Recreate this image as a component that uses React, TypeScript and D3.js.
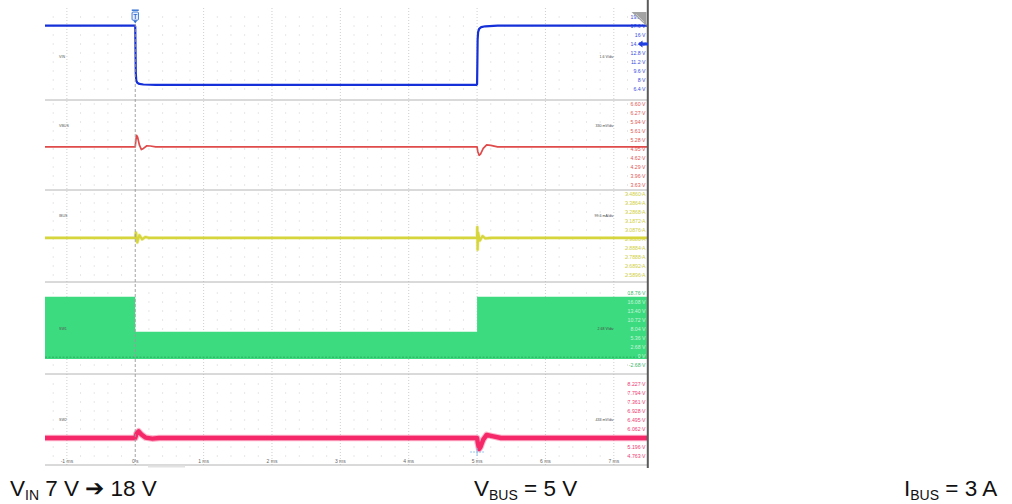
import React from 'react';
import * as d3 from 'd3';

// ---------- data ----------
const timeTicks = [-1, 0, 1, 2, 3, 4, 5, 6, 7];
const timeTickLabels = ['-1 ms', '0 s', '1 ms', '2 ms', '3 ms', '4 ms', '5 ms', '6 ms', '7 ms'];

const vinTicks = [19.2, 17.6, 16, 14.4, 12.8, 11.2, 9.6, 8, 6.4];
const vinTickLabels = ['19.2 V', '17.6 V', '16 V', '14.4 V', '12.8 V', '11.2 V', '9.6 V', '8 V', '6.4 V'];
const vinTrace: [number, number][] = [
  [-1.32, 17.65], [-0.004, 17.65], [0, 17.5], [0.004, 13], [0.008, 9.2], [0.015, 7.9], [0.03, 7.5],
  [0.06, 7.3], [0.12, 7.2], [0.3, 7.15], [4.996, 7.15], [5.0, 7.3], [5.004, 11], [5.008, 15.2],
  [5.015, 16.5], [5.03, 17.1], [5.06, 17.4], [5.12, 17.55], [5.3, 17.65], [7.5, 17.65],
];

const vbusTicks = [6.6, 6.27, 5.94, 5.61, 5.28, 4.95, 4.62, 4.29, 3.96, 3.63];
const vbusTickLabels = ['6.60 V', '6.27 V', '5.94 V', '5.61 V', '5.28 V', '4.95 V', '4.62 V', '4.29 V', '3.96 V', '3.63 V'];
const vbusTrace: [number, number][] = [
  [-1.32, 5.03], [0, 5.03], [0.008, 5.25], [0.02, 5.45], [0.035, 5.38], [0.06, 5.1], [0.09, 4.93],
  [0.12, 4.97], [0.17, 5.07], [0.22, 5.06], [0.3, 5.03], [5.0, 5.03], [5.01, 4.86], [5.03, 4.72],
  [5.05, 4.76], [5.09, 4.97], [5.14, 5.1], [5.2, 5.08], [5.3, 5.03], [7.5, 5.03],
];

const ibusTicks = [3.486, 3.3864, 3.2868, 3.1872, 3.0876, 2.988, 2.8884, 2.7888, 2.6892, 2.5896];
const ibusTickLabels = ['3.4860 A', '3.3864 A', '3.2868 A', '3.1872 A', '3.0876 A', '2.9880 A', '2.8884 A', '2.7888 A', '2.6892 A', '2.5896 A'];
const ibusTrace: [number, number][] = [
  [-1.32, 3.0], [0, 3.0], [0.01, 3.06], [0.03, 2.95], [0.06, 3.03], [0.1, 2.985], [0.15, 3.01],
  [0.2, 3.0], [5.0, 3.0], [5.003, 3.12], [5.008, 2.87], [5.015, 3.06], [5.04, 2.97], [5.08, 3.02],
  [5.12, 2.995], [5.2, 3.0], [7.5, 3.0],
];

const sw1Ticks = [18.76, 16.08, 13.4, 10.72, 8.04, 5.36, 2.68, 0, -2.68];
const sw1TickLabels = ['18.76 V', '16.08 V', '13.40 V', '10.72 V', '8.04 V', '5.36 V', '2.68 V', '0 V', '-2.68 V'];
const sw1Envelope: [number, number][] = [
  [-1.32, 17.66], [0, 7.24], [5.0, 17.66], [7.5, 17.66],
];
const sw1Low = -0.9;

const sw2Ticks = [8.227, 7.794, 7.361, 6.928, 6.495, 6.062, 5.629, 5.196, 4.763];
const sw2TickLabels = ['8.227 V', '7.794 V', '7.361 V', '6.928 V', '6.495 V', '6.062 V', '5.629 V', '5.196 V', '4.763 V'];
const sw2Trace: [number, number][] = [
  [-1.32, 5.63], [0, 5.63], [0.02, 5.85], [0.05, 5.95], [0.09, 5.8], [0.15, 5.65], [0.25, 5.6],
  [0.35, 5.63], [5.0, 5.63], [5.01, 5.4], [5.03, 5.1], [5.05, 5.2], [5.09, 5.55], [5.14, 5.78],
  [5.22, 5.72], [5.35, 5.63], [7.5, 5.63],
];

const channelNames = ['VIN', 'VBUS', 'IBUS', 'SW1', 'SW2'];
const perDivLabels = ['1.6 V/div', '330 mV/div', '99.6 mA/div', '2.68 V/div', '433 mV/div'];

// ---------- layout ----------
const X0 = 45;
const X1 = 648;
const DIV = 9;
const separators = [100, 190, 282, 374, 465];
const firstTickY = [17, 104, 194, 293, 384];
const nameY = [57, 126, 216, 329, 420];
const perDivY = [57, 126, 216, 329, 420];

const x = d3.scaleLinear().domain([-1.32, 7.5]).range([X0, X1]);

function panelScale(ticks: number[], y0: number) {
  return d3.scaleLinear().domain([ticks[0], ticks[ticks.length - 1]]).range([y0, y0 + (ticks.length - 1) * DIV]);
}

const panels = [
  { ticks: vinTicks, labels: vinTickLabels, color: '#1530d8', labelColor: '#3a4be0', width: 2.2, halo: 0 },
  { ticks: vbusTicks, labels: vbusTickLabels, color: '#df4a4a', labelColor: '#e25555', width: 1.7, halo: 0 },
  { ticks: ibusTicks, labels: ibusTickLabels, color: '#d6d63c', labelColor: '#cfcf3a', width: 2.2, halo: 3.6 },
  { ticks: sw1Ticks, labels: sw1TickLabels, color: '#3ddb7f', labelColor: '#3cb86c', width: 1, halo: 0 },
  { ticks: sw2Ticks, labels: sw2TickLabels, color: '#f5286a', labelColor: '#ef3a74', width: 4.4, halo: 6.6 },
];
const traces = [vinTrace, vbusTrace, ibusTrace, null, sw2Trace];

export default function App() {
  const scales = panels.map((p, i) => panelScale(p.ticks, firstTickY[i]));
  const line = (s: d3.ScaleLinear<number, number>) =>
    d3.line<[number, number]>().x(d => x(d[0])).y(d => s(d[1]));

  const minorTimes: number[] = [];
  for (let k = -6; k <= 37; k++) {
    const t = k * 0.2;
    if (Math.abs(t - Math.round(t)) > 0.01 && x(t) > X0 && x(t) < X1) minorTimes.push(t);
  }

  const swScale = scales[3];
  const swArea = d3.area<[number, number]>()
    .x(d => x(d[0]))
    .y0(() => swScale(sw1Low))
    .y1(d => swScale(d[1]))
    .curve(d3.curveStepAfter);

  return (
    <svg width={1012} height={504} style={{ position: 'absolute', left: 0, top: 0, background: '#fff' }}
      fontFamily="'Liberation Sans', Arial, sans-serif">
      <rect x={0} y={0} width={1012} height={504} fill="#fff" />
      {/* minor grid dots */}
      {panels.map((p, i) => (
        <g key={'dots' + i}>
          {p.ticks.map((tv, j) => minorTimes.map((t, k) => (
            <rect key={j + '-' + k} x={x(t) - 0.5} y={scales[i](tv) - 0.5} width={1} height={1} fill="#cfcfcf" />
          )))}
        </g>
      ))}
      {/* vertical ms grid lines */}
      {timeTicks.filter(t => t !== 0).map(t => (
        <line key={'v' + t} x1={x(t)} x2={x(t)} y1={8} y2={465} stroke="#cfcfcf" strokeWidth={1} strokeDasharray="1,2" />
      ))}
      {/* separators */}
      {separators.map(y => (
        <line key={'s' + y} x1={X0} x2={X1} y1={y} y2={y} stroke="#b4b4b4" strokeWidth={1} />
      ))}
      <rect x={148} y={465.5} width={37} height={2} fill="#e2e2e2" />
      {/* right axis labels */}
      {panels.map((p, i) => (
        <g key={'lab' + i} fontSize={5.2} textAnchor="end">
          {p.ticks.map((tv, j) => (
            <text key={j} x={645.5} y={scales[i](tv) + 1.9} fill={p.labelColor}>{p.labels[j]}</text>
          ))}
        </g>
      ))}
      {/* SW1 fill */}
      <path d={swArea(sw1Envelope) || ''} fill="#3ddb7f" />
      <line x1={X0} x2={X1} y1={swScale(-0.35)} y2={swScale(-0.35)} stroke="#25a458" strokeWidth={0.8} strokeDasharray="2,1.5" />
      {/* SW1 labels inside the fill on top */}
      <g fontSize={5.2} textAnchor="end">
        {sw1Ticks.map((tv, j) => (tv <= 16.08 && tv >= 0) ? (
          <text key={j} x={645.5} y={swScale(tv) + 1.9} fill="#e9fbef" fillOpacity={0.8}>{sw1TickLabels[j]}</text>
        ) : null)}
      </g>
      {/* traces */}
      {traces.map((tr, i) => tr ? (
        <g key={'tr' + i}>
          {panels[i].halo > 0 ? (
            <path d={line(scales[i])(tr) || ''} fill="none" stroke={panels[i].color}
              strokeWidth={panels[i].halo} strokeLinejoin="round" strokeOpacity={0.35} />
          ) : null}
          <path d={line(scales[i])(tr) || ''} fill="none" stroke={panels[i].color}
            strokeWidth={panels[i].width} strokeLinejoin="round" />
        </g>
      ) : null)}
      {/* trigger dashed line */}
      <line x1={x(0)} x2={x(0)} y1={24} y2={465} stroke="#9a9a9a" strokeWidth={0.9} strokeDasharray="3,2" />
      {/* channel names and per-div texts */}
      {channelNames.map((n, i) => (
        <text key={'n' + i} x={59} y={nameY[i] + 1.3} fontSize={3.6} fill="#555">{n}</text>
      ))}
      {perDivLabels.map((n, i) => (
        <text key={'pd' + i} x={613.5} y={perDivY[i] + 1.3} fontSize={3.6} fill="#444" textAnchor="end">{n}</text>
      ))}
      {/* time tick labels */}
      {timeTicks.map((t, i) => (
        <text key={'tt' + i} x={x(t)} y={462.5} fontSize={5} fill="#666" textAnchor="middle">{timeTickLabels[i]}</text>
      ))}
      {/* cursor marker at 5 ms */}
      <g stroke="#8cbde8" strokeWidth={0.9}>
        <line x1={x(5) - 7} x2={x(5) + 7} y1={452} y2={452} strokeDasharray="2,1" />
        <line x1={x(5)} x2={x(5)} y1={448} y2={456} />
      </g>
      {/* right border */}
      <line x1={647.8} x2={647.8} y1={0} y2={468} stroke="#5a5a5a" strokeWidth={2} />
      {/* top right triangle */}
      <polygon points="631.5,12 646.5,12 646.5,26" fill="#a3a3a3" />
      <line x1={636} x2={644} y1={14} y2={22} stroke="#d0d0d0" strokeWidth={0.8} />
      {/* offset arrow for VIN */}
      <polygon points="638,44 642.5,40.5 642.5,42.6 648,42.6 648,45.4 642.5,45.4 642.5,47.5" fill="#2040e0" />
      {/* trigger marker */}
      <g>
        <rect x={x(0) - 3.5} y={9.5} width={7} height={1.4} fill="#2f6fd0" />
        <rect x={x(0) - 3.2} y={12} width={6.4} height={8.2} fill="#eaf2ff" stroke="#2f6fd0" strokeWidth={0.9} rx={1} />
        <text x={x(0)} y={18.6} fontSize={6.5} fill="#2f6fd0" textAnchor="middle" fontWeight="bold">T</text>
        <polygon points={`${x(0) - 2},20.6 ${x(0) + 2},20.6 ${x(0)},23.4`} fill="#2f6fd0" />
      </g>
      {/* captions */}
      <g fontSize={22.5} fill="#111">
        <text x={10} y={496}>V<tspan fontSize={14} dy={4}>IN</tspan><tspan dy={-4}> 7 V ➔ 18 V</tspan></text>
        <text x={474} y={496}>V<tspan fontSize={14} dy={4}>BUS</tspan><tspan dy={-4}> = 5 V</tspan></text>
        <text x={904} y={496}>I<tspan fontSize={14} dy={4}>BUS</tspan><tspan dy={-4}> = 3 A</tspan></text>
      </g>
    </svg>
  );
}
